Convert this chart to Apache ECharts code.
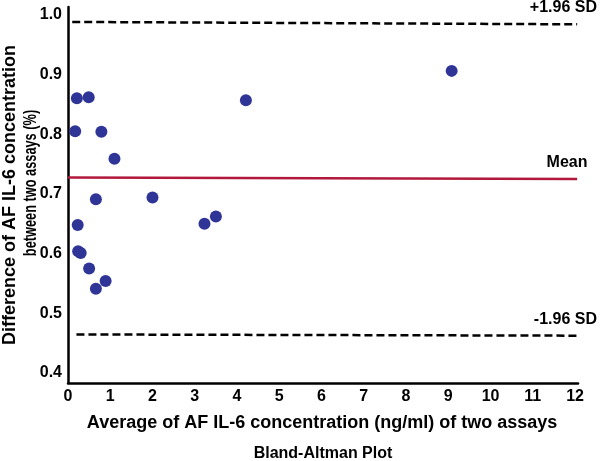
<!DOCTYPE html>
<html><head><meta charset="utf-8">
<script src="https://cdn.jsdelivr.net/npm/echarts@6/dist/echarts.min.js"></script>
<style>html,body{margin:0;padding:0;background:#fff}#c{width:600px;height:461px}</style>
</head><body><div id="c"></div>
<script>
const xTicks = [0,1,2,3,4,5,6,7,8,9,10,11,12];
const yTicks = [0.4,0.5,0.6,0.7,0.8,0.9,1.0];
const avgConc = [0.21,0.49,0.17,0.79,1.10,0.66,2.00,0.23,0.30,0.24,0.50,0.89,0.66,4.21,3.50,3.23,9.08];
const diffConc = [0.860,0.862,0.805,0.804,0.759,0.691,0.694,0.648,0.601,0.604,0.575,0.554,0.541,0.857,0.662,0.650,0.906];
const upperSD = [[0.1,0.988],[12.05,0.984]];
const meanLine = [[0,0.7275],[12.05,0.7248]];
const lowerSD = [[0.2,0.4645],[12.05,0.4625]];
const FONT = '"Liberation Sans", Arial, sans-serif';
const chart = echarts.init(document.getElementById('c'));
chart.setOption({
  animation:false,
  grid:{left:68,right:22,top:7,bottom:78},
  xAxis:{type:'value',min:0,max:12.07,splitLine:{show:false},
    axisLine:{lineStyle:{color:'#000',width:2.5}},axisTick:{show:false},
    axisLabel:{customValues:xTicks,color:'#000',fontWeight:'bold',fontSize:16,fontFamily:FONT,margin:6}},
  yAxis:{type:'value',min:0.3832,max:1.013,splitLine:{show:false},
    axisLine:{show:true,lineStyle:{color:'#000',width:2.5}},axisTick:{show:false},
    axisLabel:{customValues:yTicks,formatter:v=>v.toFixed(1),color:'#000',fontWeight:'bold',fontSize:16,fontFamily:FONT,margin:6}},
  series:[
    {type:'line',data:upperSD,symbol:'none',lineStyle:{color:'#000',width:2.5,type:[8,4]},z:1},
    {type:'line',data:meanLine,symbol:'none',lineStyle:{color:'#b2183c',width:2.5},z:1},
    {type:'line',data:lowerSD,symbol:'none',lineStyle:{color:'#000',width:2.5,type:[8,4]},z:1},
    {type:'scatter',data:avgConc.map((x,i)=>[x,diffConc[i]]),symbolSize:12,itemStyle:{color:'#2f3497',opacity:1},z:3}
  ],
  graphic:[
    {type:'text',x:597,y:8,style:{text:'+1.96 SD',align:'right',verticalAlign:'middle',font:'bold 16px '+FONT,fill:'#000'}},
    {type:'text',x:567,y:163,style:{text:'Mean',align:'center',verticalAlign:'middle',font:'bold 16px '+FONT,fill:'#000'}},
    {type:'text',x:597,y:320,style:{text:'-1.96 SD',align:'right',verticalAlign:'middle',font:'bold 16px '+FONT,fill:'#000'}},
    {type:'text',x:10,y:195,rotation:Math.PI/2,style:{text:'Difference of AF IL-6 concentration',align:'center',verticalAlign:'middle',font:'bold 18px '+FONT,fill:'#000'}},
    {type:'text',x:31,y:183,rotation:Math.PI/2,scaleX:0.71,style:{text:'between two assays (%)',align:'center',verticalAlign:'middle',font:'bold 18px '+FONT,fill:'#000'}},
    {type:'text',x:322,y:423,style:{text:'Average of AF IL-6 concentration (ng/ml) of two assays',align:'center',verticalAlign:'middle',font:'bold 18px '+FONT,fill:'#000'}},
    {type:'text',x:323,y:454,style:{text:'Bland-Altman Plot',align:'center',verticalAlign:'middle',font:'bold 16px '+FONT,fill:'#000'}}
  ]
});
</script></body></html>
